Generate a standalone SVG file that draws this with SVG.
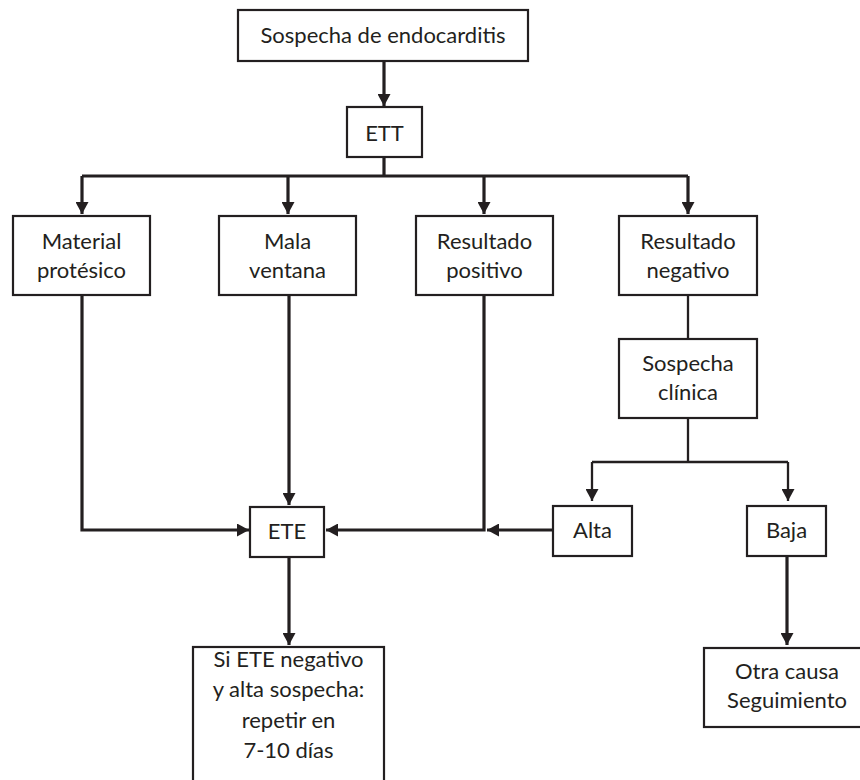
<svg xmlns="http://www.w3.org/2000/svg" width="860" height="780" viewBox="0 0 860 780">
<style>
.box{fill:#fff;stroke:#231f20;stroke-width:2.2}
.t{font-family:Lato,"Open Sans","Liberation Sans",sans-serif;font-size:22px;fill:#231f20;text-anchor:middle}
.c{fill:none;stroke:#231f20;stroke-width:3.2}
.cth{fill:none;stroke:#231f20;stroke-width:2.3}
</style>
<defs>
<marker id="ah" markerUnits="userSpaceOnUse" markerWidth="13" markerHeight="13" refX="12" refY="6.5" orient="auto">
<path d="M0,0 L12,6.5 L0,13 z" fill="#231f20"/>
</marker>
</defs>
<rect width="860" height="780" fill="#fff"/>
<g id="connectors">
<path class="c" d="M384,61 V106" marker-end="url(#ah)"/>
<path class="c" d="M384,157 V176"/>
<path class="c" d="M82,176 H688"/>
<path class="c" d="M82,176 V214" marker-end="url(#ah)"/>
<path class="c" d="M288,176 V214" marker-end="url(#ah)"/>
<path class="c" d="M484,176 V214" marker-end="url(#ah)"/>
<path class="c" d="M688,176 V214" marker-end="url(#ah)"/>
<path class="c" d="M82,295 V530 H249" marker-end="url(#ah)"/>
<path class="c" d="M289,295 V505" marker-end="url(#ah)"/>
<path class="c" d="M484,295 V530 H326" marker-end="url(#ah)"/>
<path class="c" d="M553,530 H487" marker-end="url(#ah)"/>
<path class="cth" d="M688,295 V339"/>
<path class="cth" d="M688,418 V462"/>
<path class="cth" d="M592,462 H788"/>
<path class="cth" d="M592,462 V501" marker-end="url(#ah)"/>
<path class="cth" d="M788,462 V501" marker-end="url(#ah)"/>
<path class="c" d="M289,557 V645" marker-end="url(#ah)"/>
<path class="c" d="M787,556 V645" marker-end="url(#ah)"/>
</g>
<g id="n-sospecha">
<rect class="box" x="238" y="10" width="290" height="51"/>
<text class="t" x="383" y="43">Sospecha de endocarditis</text>
</g>
<g id="n-ett">
<rect class="box" x="347" y="107" width="75" height="50"/>
<text class="t" x="384.5" y="141">ETT</text>
</g>
<g id="n-material">
<rect class="box" x="13" y="216" width="137" height="79"/>
<text class="t" x="81.5" y="249">Material</text>
<text class="t" x="81.5" y="278">protésico</text>
</g>
<g id="n-mala">
<rect class="box" x="219" y="216" width="137" height="79"/>
<text class="t" x="287.5" y="249">Mala</text>
<text class="t" x="287.5" y="278">ventana</text>
</g>
<g id="n-positivo">
<rect class="box" x="416" y="216" width="137" height="79"/>
<text class="t" x="484.5" y="249">Resultado</text>
<text class="t" x="484.5" y="278">positivo</text>
</g>
<g id="n-negativo">
<rect class="box" x="619" y="216" width="138" height="79"/>
<text class="t" x="688" y="249">Resultado</text>
<text class="t" x="688" y="278">negativo</text>
</g>
<g id="n-clinica">
<rect class="box" x="619" y="339" width="138" height="79"/>
<text class="t" x="688" y="371">Sospecha</text>
<text class="t" x="688" y="400">clínica</text>
</g>
<g id="n-alta">
<rect class="box" x="553" y="506" width="79" height="50"/>
<text class="t" x="592.5" y="538">Alta</text>
</g>
<g id="n-baja">
<rect class="box" x="747" y="506" width="79" height="50"/>
<text class="t" x="786.5" y="538">Baja</text>
</g>
<g id="n-ete">
<rect class="box" x="250" y="507" width="74" height="50"/>
<text class="t" x="287" y="539">ETE</text>
</g>
<g id="n-repetir">
<rect class="box" x="193" y="647" width="191" height="145"/>
<text class="t" x="288.5" y="667">Si ETE negativo</text>
<text class="t" x="288.5" y="697">y alta sospecha:</text>
<text class="t" x="288.5" y="728">repetir en</text>
<text class="t" x="288.5" y="758">7-10 días</text>
</g>
<g id="n-otra">
<rect class="box" x="704" y="648" width="170" height="79"/>
<text class="t" x="787" y="679">Otra causa</text>
<text class="t" x="787" y="708">Seguimiento</text>
</g>
</svg>
